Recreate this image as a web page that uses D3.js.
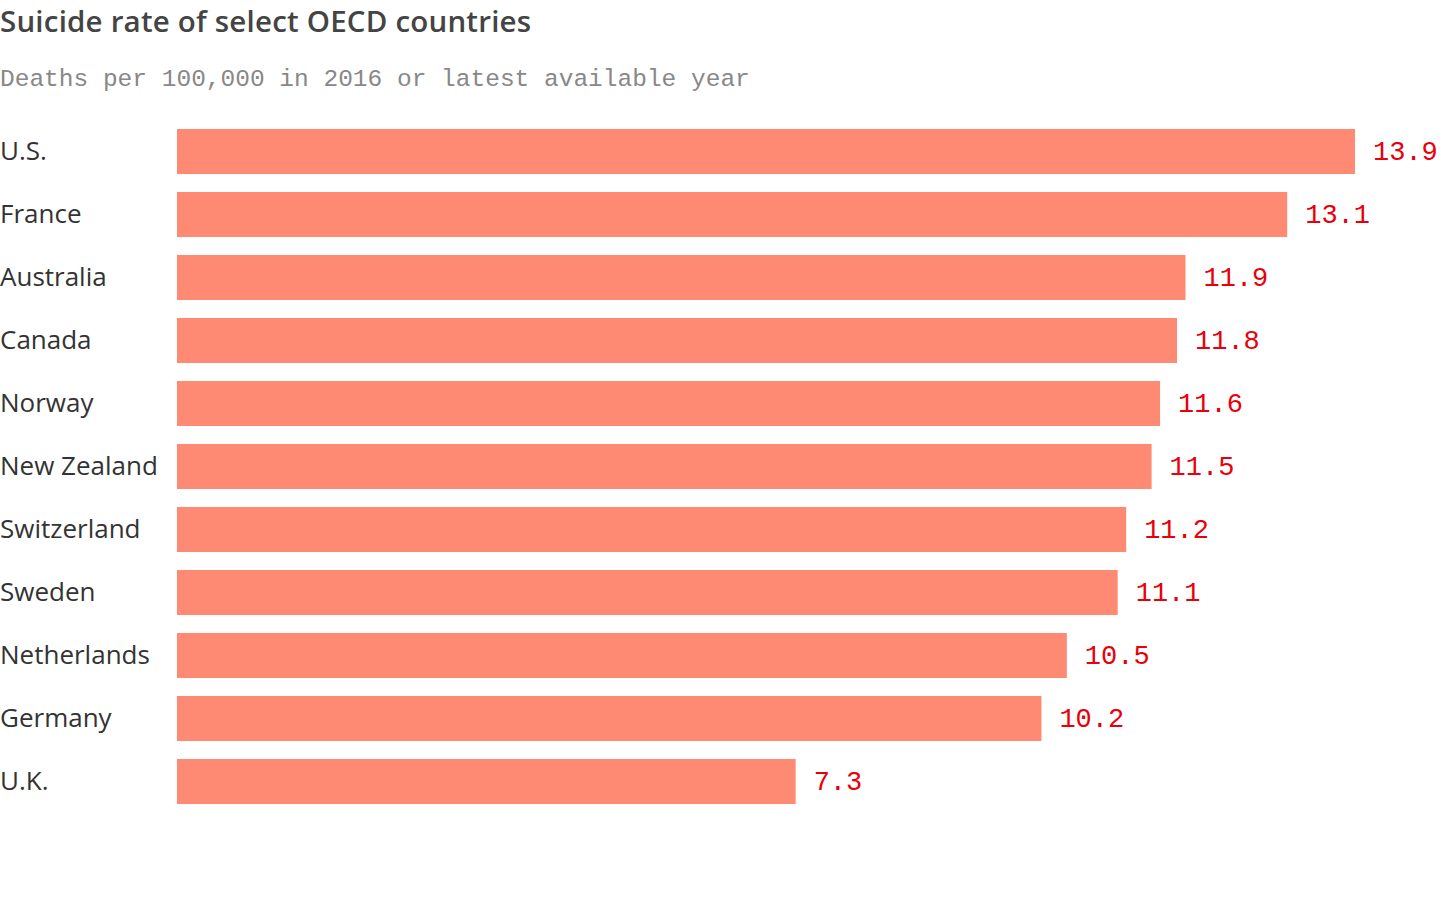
<!DOCTYPE html>
<html>
<head>
<meta charset="utf-8">
<script src="https://cdn.jsdelivr.net/npm/d3@7"></script>
<style>
  html, body { margin: 0; padding: 0; background: #fff; }
  svg { display: block; }
</style>
</head>
<body>
<svg id="chart" width="1440" height="900"></svg>
<script>
const countries = ["U.S.", "France", "Australia", "Canada", "Norway", "New Zealand", "Switzerland", "Sweden", "Netherlands", "Germany", "U.K."];
const rates = [13.9, 13.1, 11.9, 11.8, 11.6, 11.5, 11.2, 11.1, 10.5, 10.2, 7.3];
const titleText = "Suicide rate of select OECD countries";
const subtitleText = "Deaths per 100,000 in 2016 or latest available year";

const data = countries.map((c, i) => ({ country: c, value: rates[i] }));
const svg = d3.select("#chart");

svg.append("text")
  .attr("x", 0).attr("y", 32)
  .attr("font-family", "'Open Sans', Lato, sans-serif")
  .attr("font-weight", 600)
  .attr("font-size", 29.5)
  .attr("letter-spacing", 0.2)
  .attr("fill", "#444")
  .text(titleText);

svg.append("text")
  .attr("x", 0).attr("y", 86)
  .attr("font-family", "'Liberation Mono', 'DejaVu Sans Mono', monospace")
  .attr("font-size", 24.5)
  .attr("fill", "#888")
  .text(subtitleText);

const x = d3.scaleLinear().domain([0, 13.9]).range([177, 1355]);
const y = d3.scaleBand().domain(countries).range([129, 804]).paddingInner(18 / 63).paddingOuter(0);

const row = svg.append("g").selectAll("g").data(data).join("g");

row.append("rect")
  .attr("x", x(0))
  .attr("y", d => y(d.country))
  .attr("width", d => x(d.value) - x(0))
  .attr("height", y.bandwidth())
  .attr("fill", "#ff8a73");

row.append("text")
  .attr("x", 0)
  .attr("y", d => y(d.country) + y.bandwidth() / 2)
  .attr("dy", "0.33em")
  .attr("font-family", "'Open Sans', Lato, sans-serif")
  .attr("font-size", 26)
  .attr("fill", "#333")
  .text(d => d.country);

row.append("text")
  .attr("x", d => x(d.value) + 18)
  .attr("y", d => y(d.country) + y.bandwidth() / 2)
  .attr("dy", "0.32em")
  .attr("font-family", "'Liberation Mono', 'Courier New', monospace")
  .attr("font-size", 27)
  .attr("fill", "#e8000b")
  .text(d => d3.format(".1f")(d.value));
</script>
</body>
</html>
